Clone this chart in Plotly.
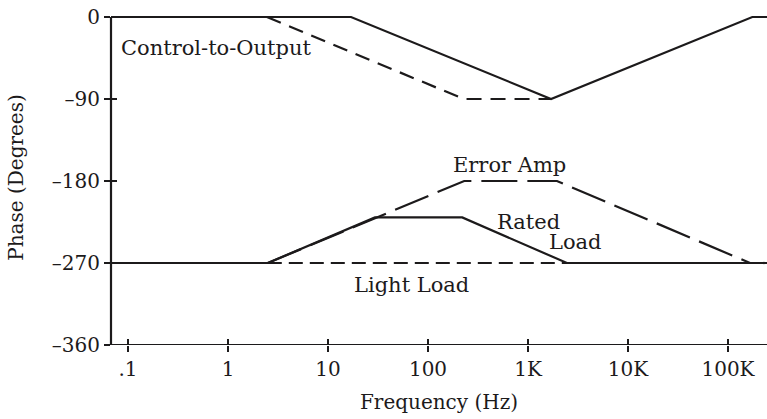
import math
import plotly.graph_objects as go

# Asymptotic phase plot of a feedback loop (frequency in Hz, phase in degrees)
ctrl_solid_f = [0.0676, 17, 1700, 175000, 250000]
ctrl_solid_p = [0, 0, -90, 0, 0]

ctrl_dash_f = [2.45, 228, 1700]
ctrl_dash_p = [0, -90, -90]

err_amp_f = [2.5, 230, 1950, 166000]
err_amp_p = [-270, -180, -180, -270]

rated_f = [0.0676, 2.5, 29.5, 220, 2450, 250000]
rated_p = [-270, -270, -220, -220, -270, -270]

light_f = [2.5, 250000]
light_p = [-270, -270]

x_tickvals = [0.1, 1, 10, 100, 1000, 10000, 100000]
x_ticktext = [".1", "1", "10", "100", "1K", "10K", "100K"]
y_tickvals = [0, -90, -180, -270, -360]
y_ticktext = ["0", "\u201390", "\u2013180", "\u2013270", "\u2013360"]

INK = "#1c1a1b"
FONT = "DejaVu Serif"
X_RANGE = [-1.17, 5.39]
Y_RANGE = [-360, 7.7]

fig = go.Figure()

def add_line(f, p, dash):
    fig.add_trace(go.Scatter(x=f, y=p, mode="lines",
                             line=dict(color=INK, width=2.2, dash=dash),
                             hoverinfo="skip", showlegend=False))

add_line(light_f, light_p, "14px,7px")
add_line(err_amp_f, err_amp_p, "36px,10px")
add_line(rated_f, rated_p, "solid")
add_line(ctrl_dash_f, ctrl_dash_p, "15px,9px")
add_line(ctrl_solid_f, ctrl_solid_p, "solid")

shapes = []
# axis lines
shapes.append(dict(type="line", xref="x domain", yref="y", x0=0, x1=0,
                   y0=Y_RANGE[0], y1=0, line=dict(color=INK, width=2.2)))
shapes.append(dict(type="line", xref="x domain", yref="y", x0=0, x1=1,
                   y0=Y_RANGE[0], y1=Y_RANGE[0], line=dict(color=INK, width=2.2)))
# cross-shaped tick marks (anchors are given in data units on the log axis)
x_left = 10 ** X_RANGE[0]
for v in x_tickvals:
    shapes.append(dict(type="line", xref="x", yref="y",
                       xsizemode="pixel", xanchor=v, x0=0, x1=0,
                       ysizemode="pixel", yanchor=Y_RANGE[0], y0=-6, y1=6,
                       line=dict(color=INK, width=2)))
for v in y_tickvals:
    shapes.append(dict(type="line", xref="x", yref="y",
                       xsizemode="pixel", xanchor=x_left, x0=-6, x1=6,
                       ysizemode="pixel", yanchor=v, y0=0, y1=0,
                       line=dict(color=INK, width=2)))

def label(text, x_hz, y_deg):
    return dict(text=text, x=math.log10(x_hz), y=y_deg, xref="x", yref="y",
                showarrow=False, xanchor="center", yanchor="middle",
                font=dict(family=FONT, size=21, color=INK))

annotations = [
    label("Control-to-Output", 0.76, -34),
    label("Error Amp", 660, -162),
    label("Rated", 1000, -225),
    label("Load", 3000, -247),
    label("Light Load", 68, -294),
]

fig.update_layout(
    width=767, height=419,
    margin=dict(l=111, r=0, t=10, b=74),
    paper_bgcolor="white", plot_bgcolor="white",
    shapes=shapes, annotations=annotations,
    font=dict(family=FONT, size=20, color=INK),
    xaxis=dict(type="log", range=X_RANGE, showgrid=False, zeroline=False,
               showline=False, tickvals=x_tickvals, ticktext=x_ticktext,
               ticks="outside", ticklen=6, tickwidth=2, tickcolor=INK,
               ticklabelstandoff=0,
               tickfont=dict(family=FONT, size=20, color=INK),
               title=dict(text="Frequency (Hz)", standoff=14,
                          font=dict(family=FONT, size=20, color=INK))),
    yaxis=dict(range=Y_RANGE, showgrid=False, zeroline=False, showline=False,
               tickvals=y_tickvals, ticktext=y_ticktext,
               ticks="outside", ticklen=6, tickwidth=2, tickcolor=INK,
               tickfont=dict(family=FONT, size=20, color=INK),
               title=dict(text="Phase (Degrees)", standoff=22,
                          font=dict(family=FONT, size=20, color=INK))),
)

fig.write_html("out.html")
